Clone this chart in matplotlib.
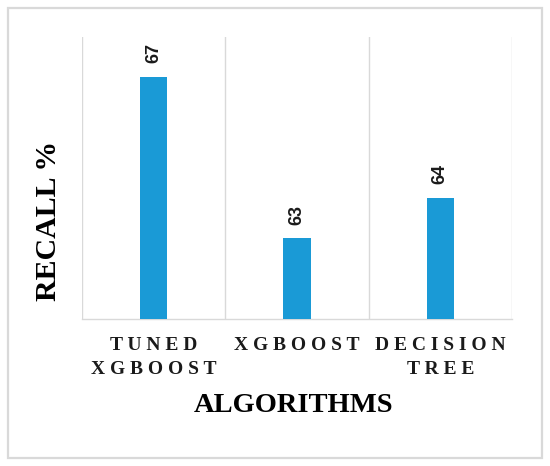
import numpy as np
import matplotlib
matplotlib.use("Agg")
import matplotlib.pyplot as plt
from matplotlib.patches import Rectangle

# ---- data ----
categories = ["TUNED\nXGBOOST", "XGBOOST", "DECISION\nTREE"]
recall = [67, 63, 64]
y_min, y_max = 61, 68
x_title = "ALGORITHMS"
y_title = "RECALL %"

W, H = 550, 466
fig = plt.figure(figsize=(W / 100, H / 100), dpi=100)
fig.patch.set_facecolor("white")

# outer light-gray frame
frame = Rectangle((8 / W, 1 - 458 / H), 534 / W, 450 / H, transform=fig.transFigure,
                  fill=False, edgecolor="#d9d9d9", linewidth=1.6)
fig.patches.append(frame)

ax = fig.add_axes([82 / W, 1 - 319 / H, 430 / W, 282 / H])
x = np.arange(len(categories))
ax.bar(x, recall, width=0.19, color="#1a9ad6", zorder=3)
ax.set_xlim(-0.5, len(categories) - 0.5)
ax.set_ylim(y_min, y_max)

for b in np.arange(-0.5, len(categories), 1.0):
    ax.axvline(b, color="#d9d9d9", linewidth=1.0, zorder=1)

for s in ["top", "left", "right"]:
    ax.spines[s].set_visible(False)
ax.spines["bottom"].set_color("#d9d9d9")
ax.spines["bottom"].set_linewidth(1.0)

ax.set_yticks([])
ax.set_xticks(x)

def spaced(label):
    return "\n".join(" ".join(list(line)) for line in label.split("\n"))

ax.set_xticklabels([spaced(c) for c in categories],
                   fontfamily=["Liberation Serif", "DejaVu Serif"],
                   fontweight="bold", fontsize=14, linespacing=1.55,
                   color="#1a1a1a")
ax.tick_params(axis="x", length=0, pad=13)

for xi, v in zip(x, recall):
    ax.annotate(str(v), (xi, v), xytext=(0, 10), textcoords="offset points",
                rotation=90, ha="center", va="bottom",
                fontfamily=["Liberation Sans", "DejaVu Sans"],
                fontweight="bold", fontsize=13, color="#1a1a1a")

fig.text(49 / W, 1 - 221 / H, y_title, rotation=90, ha="center", va="center",
         fontfamily=["Liberation Serif", "DejaVu Serif"], fontweight="bold",
         fontsize=21.5, color="black")
fig.text(294 / W, 1 - 406 / H, x_title, ha="center", va="center",
         fontfamily=["Liberation Serif", "DejaVu Serif"], fontweight="bold",
         fontsize=20.5, color="black")

fig.savefig("out.png", dpi=100)
